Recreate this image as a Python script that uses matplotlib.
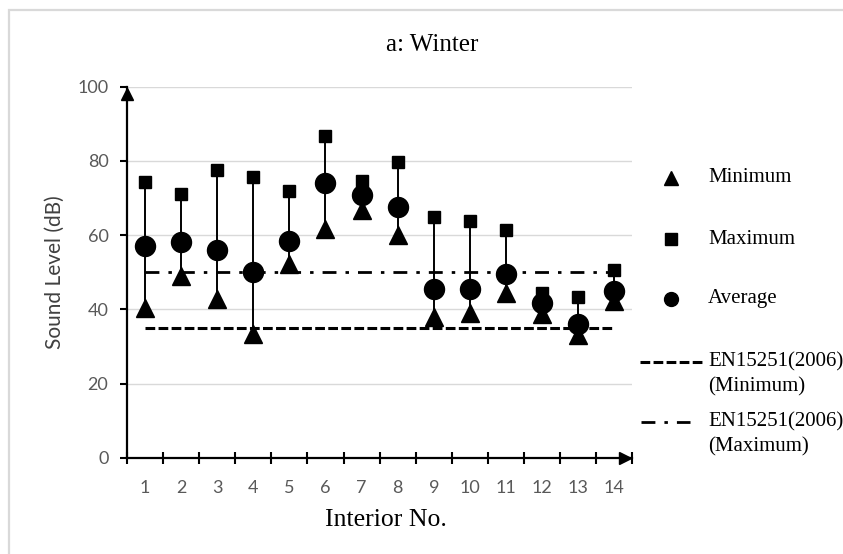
import matplotlib
matplotlib.use("Agg")
import matplotlib.pyplot as plt
from matplotlib.lines import Line2D
from matplotlib.patches import Rectangle
from matplotlib.ticker import FixedLocator, NullFormatter

# Sound levels per interior (dB)
interiors = list(range(1, 15))
minimum = [40.4, 49.0, 42.9, 33.4, 52.1, 61.7, 66.7, 60.1, 37.9, 39.0, 44.5, 38.6, 33.0, 42.2]
maximum = [74.2, 71.0, 77.5, 75.7, 71.9, 86.8, 74.5, 79.8, 65.0, 63.8, 61.4, 44.5, 43.4, 50.6]
average = [57.1, 58.1, 55.9, 50.1, 58.4, 74.1, 70.8, 67.5, 45.5, 45.5, 49.4, 41.8, 36.0, 44.8]
en_limit_min = 35
en_limit_max = 50
y_ticks = [0, 20, 40, 60, 80, 100]

plt.rcParams["lines.scale_dashes"] = False
W, H = 843, 554
fig = plt.figure(figsize=(W / 100, H / 100), dpi=100)

def fx(px):
    return px / W

def fy(py):
    return 1 - py / H

x0, x1, y0, y1 = 126.9, 632.3, 457.7, 86.7
ax = fig.add_axes([fx(x0), fy(y0), fx(x1) - fx(x0), fy(y1) - fy(y0)])

# chart frame
fig.add_artist(Rectangle((fx(9), -0.2), 1.5, fy(10) + 0.2, transform=fig.transFigure,
                         fill=False, edgecolor="#d9d9d9", linewidth=1.6))

ax.set_xlim(0.5, 14.5)
ax.set_ylim(0, 100)

# gridlines
for t in y_ticks[1:]:
    ax.axhline(t, color="#d9d9d9", linewidth=1.0, zorder=0)

# high-low lines
ax.vlines(interiors, minimum, maximum, color="black", linewidth=1.4, zorder=2)

# reference limits
ax.plot(interiors, [en_limit_min] * len(interiors), color="black", linewidth=2.2,
        dashes=(7.0, 2.4), zorder=3)
ax.plot(interiors, [en_limit_max] * len(interiors), color="black", linewidth=2.0,
        dashes=(10, 6.5, 2.5, 6.5), zorder=3)

ax.plot(interiors, minimum, linestyle="none", marker="^", markersize=12.5, color="black", zorder=4)
ax.plot(interiors, maximum, linestyle="none", marker="s", markersize=8.9, color="black", zorder=4)
ax.plot(interiors, average, linestyle="none", marker="o", markersize=14.4, color="black", zorder=5)

# axes styling
for s in ["top", "right"]:
    ax.spines[s].set_visible(False)
for s in ["left", "bottom"]:
    ax.spines[s].set_linewidth(1.6)
    ax.spines[s].set_color("black")

tick_font = dict(family="Lato", size=13, color="#595959")
ax.set_yticks(y_ticks)
ax.set_yticklabels([str(t) for t in y_ticks], **tick_font)
ax.tick_params(axis="y", direction="out", length=4.8, width=1.5, color="black", pad=8.5)

ax.set_xticks(interiors)
ax.set_xticklabels([str(i) for i in interiors], **tick_font)
ax.tick_params(axis="x", which="major", length=0, pad=16)
ax.xaxis.set_minor_locator(FixedLocator([i + 0.5 for i in range(0, 15)]))
ax.xaxis.set_minor_formatter(NullFormatter())
ax.tick_params(axis="x", which="minor", direction="inout", length=8.4, width=1.5, color="black")

# axis arrowheads
ax.plot([0], [0.98], marker="^", markersize=9, color="black", transform=ax.transAxes, clip_on=False)
ax.plot([0.9856], [0], marker=">", markersize=9, color="black", transform=ax.transAxes, clip_on=False)

ax.set_ylabel("Sound Level (dB)", family="Lato", size=15, color="#404040")
ax.yaxis.set_label_coords((55 - x0) / (x1 - x0), 0.5)
ax.yaxis.label.set_va("center")

serif = "Liberation Serif"
fig.text(fx(386), fy(520), "Interior No.", family=serif, size=18.5, ha="center", va="center")
fig.text(fx(432), fy(45), "a: Winter", family=serif, size=18, ha="center", va="center")

# legend
leg_font = dict(family=serif, size=15, va="center", ha="left", color="black")
mk_x, txt_x = 671, 708
for marker, ms, py, label in [("^", 10, 178, "Minimum"), ("s", 9, 239, "Maximum"),
                              ("o", 10, 299, "Average")]:
    fig.add_artist(Line2D([fx(mk_x)], [fy(py)], marker=marker, markersize=ms, color="black",
                          linestyle="none", transform=fig.transFigure))
    fig.text(fx(txt_x), fy(py), label, **leg_font)

fig.add_artist(Line2D([fx(640), fx(703)], [fy(362), fy(362)], color="black", linewidth=2.2,
                      dashes=(7.0, 2.4), transform=fig.transFigure))
fig.text(fx(txt_x), fy(362), "EN15251(2006)", **leg_font)
fig.text(fx(txt_x), fy(387), "(Minimum)", **leg_font)

fig.add_artist(Line2D([fx(641), fx(690)], [fy(422), fy(422)], color="black", linewidth=2.0,
                      dashes=(10, 6.5, 2.5, 6.5), transform=fig.transFigure))
fig.text(fx(txt_x), fy(422), "EN15251(2006)", **leg_font)
fig.text(fx(txt_x), fy(447), "(Maximum)", **leg_font)

fig.savefig("out.png", dpi=100)
